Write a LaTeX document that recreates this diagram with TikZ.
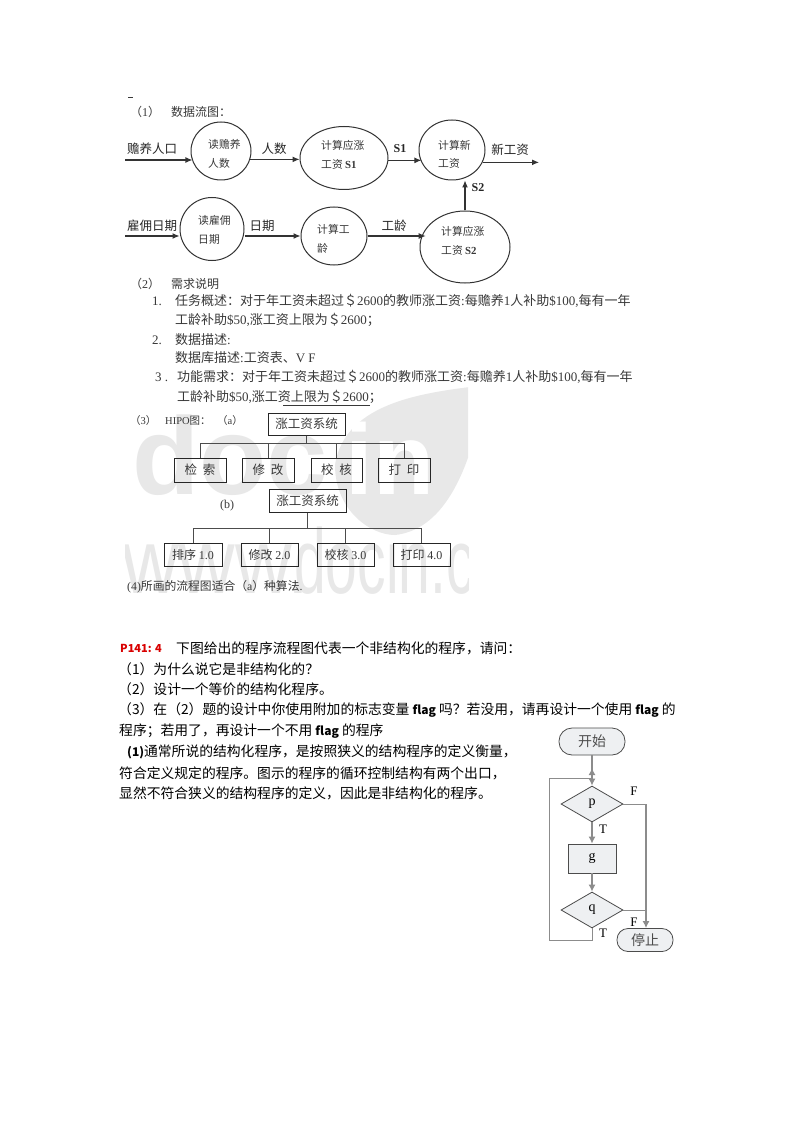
\documentclass[tikz,border=0pt]{standalone}
\usepackage{fontspec}
\setmainfont{Liberation Serif}
\setsansfont{Liberation Sans}
\newfontfamily\cjk{Noto Sans CJK SC}
\usetikzlibrary{shapes.geometric}
\usetikzlibrary{arrows.meta}
\newcommand{\lat}[1]{{\rmfamily #1}}
\newcommand{\flagword}{{\bfseries\fontsize{12}{14}\selectfont flag}}
\definecolor{scanink}{gray}{0.22}
\definecolor{markgray}{gray}{0.91}
\definecolor{chartline}{gray}{0.55}
\definecolor{chartfill}{RGB}{238,240,242}
\tikzset{
  bubble/.style={draw=black!80,line width=1pt,ellipse,inner sep=0pt},
  bubtext/.style={right,inner sep=0pt,text=scanink,font=\cjk\fontsize{10.8}{12}\selectfont},
  flowtext/.style={inner sep=0pt,text=black!85,font=\cjk\fontsize{12.5}{14}\selectfont},
  flow/.style={-{Latex[length=7pt,width=6pt]},draw=black!80,line width=1.1pt},
  scantext/.style={right,inner sep=0pt,text=scanink,font=\cjk\fontsize{13}{15}\selectfont},
  headtext/.style={right,inner sep=0pt,text=scanink,font=\cjk\fontsize{12}{14}\selectfont},
  hipobox/.style={draw=black!85,line width=1pt,inner sep=0pt,text=scanink,font=\cjk\fontsize{12.5}{14}\selectfont},
  hipoline/.style={draw=black!70,line width=1pt},
  bodytext/.style={right,inner sep=0pt,font=\cjk\fontsize{13.8}{16}\selectfont},
  chartnode/.style={draw=black!70,fill=chartfill,line width=0.8pt,inner sep=0pt,font=\rmfamily\fontsize{14}{16}\selectfont},
  chartarrow/.style={-{Latex[length=7pt,width=7pt]},draw=chartline,line width=1.3pt},
  chartline/.style={draw=chartline,line width=0.9pt},
  chartlabel/.style={inner sep=0pt,font=\rmfamily\fontsize{13}{15}\selectfont},
  marktext/.style={inner sep=0pt,text=markgray,anchor=base west},
}
\begin{document}
\begin{tikzpicture}[x=1pt,y=-1pt]
\useasboundingbox (0,0) rectangle (794,1123);
\fill[white] (0,0) rectangle (794,1123);

% watermark
\begin{scope}
\clip (125,385) rectangle (468,597);
\fill[markgray] (486,385) .. controls (430,392) and (345,400) .. (335,465) .. controls (335,510) and (370,535) .. (395,535) .. controls (440,530) and (470,480) .. (486,385) -- cycle;
\node[marktext,font=\sffamily\bfseries\fontsize{110}{110}\selectfont] (markdoc) at (132,494) {doc};
\node[marktext,text=white,font=\sffamily\bfseries\fontsize{100}{100}\selectfont] (markin) at (345,494) {in};
\node[marktext,font=\sffamily\fontsize{92}{92}\selectfont,xscale=0.85] (markwww) at (122,593) {www.};
\node[marktext,font=\sffamily\fontsize{92}{92}\selectfont,xscale=0.62] (markdomain) at (294,593) {docin.c};
\end{scope}

% (1)
\draw[scanink,line width=0.5pt] (128,97)--(133,97);
\node[headtext] (headone) at (130,112) {（\lat{1}）};
\node[headtext] (headonet) at (171,112) {数据流图：};

\node[bubble,minimum width=60pt,minimum height=58pt] (readnum) at (221,151) {};
\node[bubble,minimum width=88pt,minimum height=63pt] (calcone) at (344,158) {};
\node[bubble,minimum width=66pt,minimum height=60pt] (calcnew) at (452,150) {};
\node[bubble,minimum width=64pt,minimum height=63pt] (readdate) at (212,229) {};
\node[bubble,minimum width=66pt,minimum height=58pt] (calcage) at (334,236) {};
\node[bubble,minimum width=90pt,minimum height=72pt] (calctwo) at (465,247) {};

\node[bubtext] (t1) at (208,144) {读赡养};
\node[bubtext] (t2) at (208,163) {人数};
\node[bubtext] (t3) at (321,145) {计算应涨};
\node[bubtext] (t4) at (321,164) {工资 \lat{\bfseries S1}};
\node[bubtext] (t5) at (438,145) {计算新};
\node[bubtext] (t6) at (438,163) {工资};
\node[bubtext] (t7) at (198,220) {读雇佣};
\node[bubtext] (t8) at (198,239) {日期};
\node[bubtext] (t9) at (317,229) {计算工};
\node[bubtext] (t10) at (317,248) {龄};
\node[bubtext] (t11) at (441,231) {计算应涨};
\node[bubtext] (t12) at (441,250) {工资 \lat{\bfseries S2}};

\coordinate (inone) at (125,160);
\coordinate (outone) at (539,160);
\coordinate (intwo) at (125,236);
\draw[flow] (inone) -- (inone -| readnum.200);
\draw[flow] (readnum.-16) -- (readnum.-16 -| calcone.west);
\draw[flow] (calcone.-3) -- (calcone.-3 -| calcnew.202);
\draw[flow] (calcnew.-22) -- (calcnew.-22 -| outone);
\draw[flow] (intwo) -- (intwo -| readdate.west);
\draw[flow] (readdate.east |- intwo) -- (intwo -| calcage.west);
\draw[flow] (calcage.east) -- (calcage.east -| calctwo.155);
\draw[flow] (calctwo.north) -- (calctwo.north |- calcnew.south);

\node[flowtext] (f1) at (152,149) {赡养人口};
\node[flowtext] (f2) at (274,149) {人数};
\node[flowtext,font=\rmfamily\bfseries\fontsize{12}{14}\selectfont] (f3) at (400,149) {S1};
\node[flowtext] (f4) at (510,150) {新工资};
\node[flowtext] (f5) at (152,226) {雇佣日期};
\node[flowtext] (f6) at (262,226) {日期};
\node[flowtext] (f7) at (394,226) {工龄};
\node[flowtext,font=\rmfamily\bfseries\fontsize{12}{14}\selectfont] (f8) at (478,188) {S2};

% (2)
\node[headtext] (headtwo) at (130,284) {（\lat{2}）};
\node[headtext] (headtwot) at (171,284) {需求说明};
\node[scantext] (n1) at (152,301) {\lat{1.}};
\node[scantext] (l1) at (175,301) {任务概述：对于年工资未超过＄\lat{2600}的教师涨工资\lat{:}每赡养\lat{1}人补助\lat{\$100,}每有一年};
\node[scantext] (l2) at (175,320) {工龄补助\lat{\$50,}涨工资上限为＄\lat{2600}；};
\node[scantext] (n2) at (152,340) {\lat{2.}};
\node[scantext] (l3) at (175,340) {数据描述\lat{:}};
\node[scantext] (l4) at (175,358) {数据库描述\lat{:}工资表、\lat{V F}};
\node[scantext] (n3) at (155,377) {\lat{3 .}};
\node[scantext] (l5) at (177,377) {功能需求：对于年工资未超过＄\lat{2600}的教师涨工资\lat{:}每赡养\lat{1}人补助\lat{\$100,}每有一年};
\node[scantext] (l6) at (177,397) {工龄补助\lat{\$50,}涨工资上限为＄\lat{2600}；};
\coordinate (ulinea) at (283,405.5);
\coordinate (ulineb) at (370,405.5);
\draw[scanink,line width=1.3pt] (ulinea) -- (ulineb);

% (3)
\node[headtext,font=\cjk\fontsize{10.5}{12}\selectfont] (headthree) at (130,421) {（\lat{3}）};
\node[headtext,font=\cjk\fontsize{10.5}{12}\selectfont] (headhipo) at (165,421) {\lat{HIPO}图：};
\node[headtext,font=\cjk\fontsize{10.5}{12}\selectfont] (heada) at (217,421) {（\lat{a}）};
\node[hipobox,minimum width=77pt,minimum height=22pt] (roota) at (306.5,424) {涨工资系统};
\node[hipobox,minimum width=52pt,minimum height=24pt] (aa) at (200,470) {检\ \ 索};
\node[hipobox,minimum width=52pt,minimum height=24pt] (ab) at (268,470) {修\ \ 改};
\node[hipobox,minimum width=51pt,minimum height=24pt] (ac) at (336.5,470) {校\ \ 核};
\node[hipobox,minimum width=52pt,minimum height=24pt] (ad) at (404,470) {打\ \ 印};
\foreach \kid in {aa,ab,ac,ad}
  \draw[hipoline] (roota.south) -- ++(0,8) -| (\kid.north);

\node[headtext,font=\rmfamily\fontsize{12}{14}\selectfont] (headb) at (220,506) {(b)};
\node[hipobox,minimum width=77pt,minimum height=23pt] (rootb) at (307.5,500.5) {涨工资系统};
\node[hipobox,minimum width=58pt,minimum height=23pt,font=\cjk\fontsize{12}{14}\selectfont] (ba) at (193,554.5) {排序 \lat{1.0}};
\node[hipobox,minimum width=57pt,minimum height=23pt,font=\cjk\fontsize{12}{14}\selectfont] (bb) at (269.5,554.5) {修改 \lat{2.0}};
\node[hipobox,minimum width=57pt,minimum height=23pt,font=\cjk\fontsize{12}{14}\selectfont] (bc) at (345.5,554.5) {校核 \lat{3.0}};
\node[hipobox,minimum width=57pt,minimum height=23pt,font=\cjk\fontsize{12}{14}\selectfont] (bd) at (421.5,554.5) {打印 \lat{4.0}};
\foreach \kid in {ba,bb,bc,bd}
  \draw[hipoline] (rootb.south) -- ++(0,16) -| (\kid.north);

\node[headtext,font=\cjk\fontsize{11.8}{14}\selectfont] (headfour) at (127,587) {\lat{(4)}所画的流程图适合（\lat{a}）种算法\lat{.}};

% P141
\node[bodytext,text=red!85!black,font=\cjk\bfseries\fontsize{11}{13}\selectfont] (ptitle) at (120,648) {P141: 4};
\node[bodytext] (b1) at (176,648) {下图给出的程序流程图代表一个非结构化的程序，请问：};
\node[bodytext] (b2) at (118,669) {（1）为什么说它是非结构化的？};
\node[bodytext] (b3) at (118,689) {（2）设计一个等价的结构化程序。};
\node[bodytext] (b4) at (118,710) {（3）在（2）题的设计中你使用附加的标志变量 \flagword{} 吗？若没用，请再设计一个使用 \flagword{} 的};
\node[bodytext] (b5) at (119,731) {程序；若用了，再设计一个不用 \flagword{} 的程序};
\node[bodytext] (b6) at (127,752) {{\bfseries\fontsize{12}{14}\selectfont (1)}通常所说的结构化程序，是按照狭义的结构程序的定义衡量，};
\node[bodytext] (b7) at (119,773) {符合定义规定的程序。图示的程序的循环控制结构有两个出口，};
\node[bodytext] (b8) at (119,793) {显然不符合狭义的结构程序的定义，因此是非结构化的程序。};

% flow chart
\node[chartnode,rounded corners=13pt,minimum width=66pt,minimum height=27pt,font=\cjk\fontsize{14}{16}\selectfont,text=black!70] (start) at (592,741.5) {开始};
\node[chartnode,diamond,aspect=1.72,minimum width=62pt,minimum height=36pt] (testp) at (592,804) {p};
\node[chartnode,minimum width=48pt,minimum height=29pt] (procg) at (592,858.5) {g};
\node[chartnode,diamond,aspect=1.72,minimum width=62pt,minimum height=36pt] (testq) at (592,910) {q};
\node[chartnode,rounded corners=11pt,minimum width=56pt,minimum height=23pt,font=\cjk\fontsize{14}{16}\selectfont,text=black!70] (stop) at (645,940) {停止};

\coordinate (loopa) at (592,940);
\coordinate (loopb) at (549,940);
\coordinate (loopc) at (549,778);
\coordinate (loopd) at (592,778);
\coordinate (loopup) at (592,768);
\coordinate (rightp) at (646,804);
\draw[chartarrow] (start.south) -- (testp.north);
\draw[chartline] (testq.south) -- (loopa) -- (loopb) -- (loopc) -- (loopd);
\draw[chartarrow] (loopd) -- (loopup);
\draw[chartline] (testp.east) -- (rightp);
\draw[chartarrow] (rightp) -- (rightp |- stop.north);
\draw[chartline,line width=0.6pt] (testq.east) -- (testq.east -| rightp);
\draw[chartarrow] (testp.south) -- (procg.north);
\draw[chartarrow] (procg.south) -- (testq.north);

\node[chartlabel] (lf1) at (634,791) {F};
\node[chartlabel] (lt1) at (603,829) {T};
\node[chartlabel] (lf2) at (634,922) {F};
\node[chartlabel] (lt2) at (603,933) {T};
\end{tikzpicture}
\end{document}
